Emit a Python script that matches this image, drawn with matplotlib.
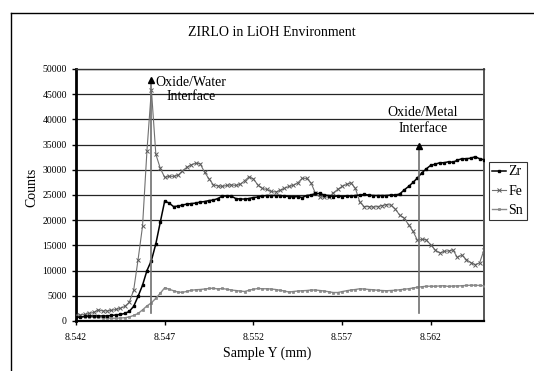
import matplotlib
matplotlib.use('Agg')
import matplotlib.pyplot as plt
from matplotlib.lines import Line2D

plt.rcParams['font.family'] = ['Liberation Serif', 'DejaVu Serif']

# ---------------- data ----------------
x_start = 8.542
x_step = 0.00025

zr = [700, 800, 900, 1000, 1000, 1000, 1000, 1000, 1100, 1200,
      1300, 1500, 1900, 2900, 4900, 7100, 10000, 12000, 15300, 19600,
      23800, 23400, 22700, 22800, 23000, 23200, 23300, 23400, 23600, 23700,
      23900, 24000, 24300, 24800, 24800, 24800, 24300, 24200, 24200, 24300,
      24500, 24600, 24800, 24900,
      24900, 24900, 24900, 24800, 24700, 24600, 24700, 24500, 24900, 25000,
      25300, 25300, 25000, 24900, 24700, 24800, 24700, 24800, 24800,
      24900, 25000, 25100, 25000, 24900, 24900, 24900, 24900, 25000, 25000,
      25200, 26000, 26700, 27500, 28400, 29400, 30200, 30900, 31100, 31400,
      31400, 31600, 31500, 31900, 32200, 32200, 32300, 32600, 32200, 32000]

fe = [1100, 1200, 1300, 1500, 1700, 2200, 2000, 2000, 2100, 2300,
      2500, 2900, 3700, 6100, 12200, 18800, 33800, 45900, 33100, 30300,
      28500, 28700, 28700, 28900, 29800, 30500, 31000, 31300, 31200, 29500,
      28200, 27000, 26800, 26700, 26900, 27000, 26900, 27100, 27800, 28600,
      28200, 27000, 26300, 26100,
      25700, 25600, 25900, 26300, 26700, 26900, 27400, 28300, 28300, 27400,
      25300, 24600, 24600, 24600, 25400, 26100, 26700, 27100, 27400,
      26300,
      23600, 22700, 22700, 22600, 22700, 22900, 23100, 23000, 22200, 21000,
      20400, 19100, 17800, 16000, 16200, 16100, 15100, 14100, 13500, 13800,
      13900, 14100, 12600, 13100, 12200, 11600, 11200, 11500, 14100]

sn = [800, 850, 850, 800, 750, 700, 650, 600, 550, 550,
      600, 650, 800, 1100, 1500, 2200, 3000, 3600, 4500, 5500,
      6600, 6300, 6000, 5750, 5680, 5880, 6100, 6200, 6250, 6350,
      6450, 6500, 6350, 6450, 6300, 6150, 6050, 5950, 5850, 6100,
      6300, 6450, 6400, 6400,
      6350, 6250, 6100, 5950, 5750, 5850, 5950, 6000, 6050, 6150,
      6150, 6050, 5950, 5800, 5650, 5650, 5830, 6000, 6150, 6250,
      6400, 6350, 6250, 6200, 6100, 6050, 6000, 6050, 6100, 6200,
      6300, 6400, 6550, 6700, 6800, 6900, 6900, 6900, 6950, 7000,
      6850, 6950, 6950, 7000, 7050, 7100, 7100, 7050, 7000]

x_tick_labels = ['8.542', '8.547', '8.552', '8.557', '8.562']
y_ticks = list(range(0, 50001, 5000))

water_x = 8.5462
water_arrow = (1600, 48600)
metal_x = 8.56134
metal_arrow = (1600, 35500)

x = [x_start + i * x_step for i in range(len(zr))]

# ---------------- figure ----------------
W, H = 534, 371
fig = plt.figure(figsize=(W / 100, H / 100), dpi=100)
fig.patch.set_facecolor('white')
ax = fig.add_axes([76 / W, 50 / H, 408 / W, 252 / H])

ax.plot(x, sn, color='#8a8a8a', lw=1.0, marker='s', ms=1.9,
        mfc='#8f8f8f', mec='#7a7a7a', mew=0.4, label='Sn', zorder=3)
ax.plot(x, fe, color='#707070', lw=0.8, marker='x', ms=2.3, mew=0.7,
        mec='#5a5a5a', label='Fe', zorder=4)
ax.plot(x, zr, color='black', lw=1.1, marker='s', ms=2.1,
        mfc='black', mec='black', label='Zr', zorder=5)

ax.set_xlim(x[0], x[-1])
ax.set_ylim(0, 50000)
ax.set_yticks(y_ticks)
ax.set_yticklabels([str(v) for v in y_ticks])
ax.set_xticks(x[::20])
ax.set_xticklabels(x_tick_labels)
ax.yaxis.grid(True, color='#252525', lw=0.9)
ax.set_axisbelow(True)

ax.spines['left'].set_linewidth(2.0)
ax.spines['bottom'].set_linewidth(1.6)
ax.spines['top'].set_linewidth(1.0)
ax.spines['top'].set_color('#333333')
ax.spines['right'].set_linewidth(1.4)
ax.spines['right'].set_color('#555555')

ax.tick_params(axis='both', direction='out', length=3, width=1, labelsize=7)
ax.tick_params(axis='x', pad=6)
ax.tick_params(axis='y', pad=3.5)

# arrows
for xa, (y0, y1) in [(water_x, water_arrow), (metal_x, metal_arrow)]:
    ax.plot([xa, xa], [y0, y1 - 800], color='#707070', lw=1.2, zorder=6)
    ax.plot([xa], [y1 - 700], marker='^', color='black', ms=4.5, zorder=7)

ax.text(8.54848, 46000, 'Oxide/Water\nInterface', ha='center', va='center',
        fontsize=10, linespacing=1.1, zorder=8)
ax.text(8.56156, 39800, 'Oxide/Metal\nInterface', ha='center', va='center',
        fontsize=10, linespacing=1.25, zorder=8)

# titles / labels
fig.text(272 / W, 1 - 33 / H, 'ZIRLO in LiOH Environment', ha='center',
         va='center', fontsize=10)
fig.text(267 / W, 1 - 353 / H, 'Sample Y (mm)', ha='center', va='center',
         fontsize=10)
fig.text(32 / W, 1 - 187 / H, 'Counts', ha='center', va='center',
         fontsize=10, rotation=90)

# legend
handles, labels = ax.get_legend_handles_labels()
order = [2, 1, 0]
leg = fig.legend([handles[i] for i in order], [labels[i] for i in order],
                 loc='upper left', bbox_to_anchor=(489 / W, 1 - 162 / H),
                 frameon=True, fancybox=False, edgecolor='black', fontsize=10,
                 handlelength=1.0, handletextpad=0.15, borderpad=0.25,
                 borderaxespad=0, labelspacing=0.45)
leg.get_frame().set_linewidth(0.8)

# chart-area frame
fig.add_artist(Line2D([11 / W, 11 / W], [0, 1 - 13 / H], transform=fig.transFigure,
                      color='black', lw=1.0))
fig.add_artist(Line2D([11 / W, 1], [1 - 13 / H, 1 - 13 / H], transform=fig.transFigure,
                      color='black', lw=1.0))

fig.savefig('out.png', dpi=100)
